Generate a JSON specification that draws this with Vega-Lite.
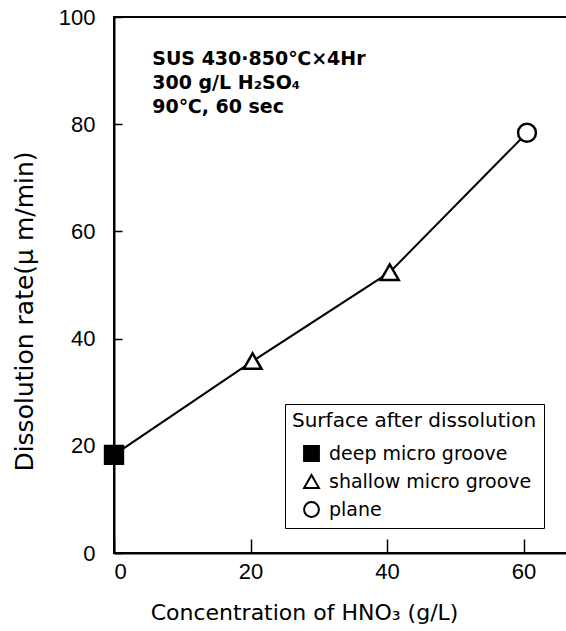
{
  "$schema": "https://vega.github.io/schema/vega-lite/v6.json",
  "autosize": "none",
  "padding": {"left": 114, "top": 17, "right": 0, "bottom": 78},
  "width": 456,
  "height": 536,
  "background": "white",
  "config": {
    "view": {"stroke": "black", "strokeWidth": 2},
    "axis": {
      "grid": false,
      "domainColor": "black",
      "domainWidth": 2,
      "tickColor": "black",
      "tickWidth": 1.5,
      "labelColor": "black",
      "labelFont": "Liberation Sans",
      "labelFontSize": 22,
      "titleColor": "black",
      "titleFont": "DejaVu Sans",
      "titleFontWeight": "normal",
      "titleFontSize": 20
    },
    "legend": {
      "orient": "none",
      "legendX": 171,
      "legendY": 387,
      "strokeColor": "black",
      "fillColor": "white",
      "padding": 7,
      "titleFont": "DejaVu Sans",
      "titleFontWeight": "normal",
      "titleFontSize": 20,
      "titleColor": "black",
      "titlePadding": 13,
      "labelFont": "DejaVu Sans",
      "labelFontSize": 19,
      "labelColor": "black",
      "labelOffset": 8,
      "symbolSize": 220,
      "symbolStrokeWidth": 2,
      "symbolOpacity": 1,
      "symbolOffset": 10,
      "rowPadding": 6,
      "titleLimit": 400,
      "labelLimit": 400
    }
  },
  "datasets": {
    "points": [
      {"hno3": 0, "rate": 18.3, "surface": "deep micro groove"},
      {"hno3": 20.3, "rate": 35.8, "surface": "shallow micro groove"},
      {"hno3": 40.4, "rate": 52.4, "surface": "shallow micro groove"},
      {"hno3": 60.5, "rate": 78.4, "surface": "plane"}
    ],
    "notes": [
      {"hno3": 5.6, "rate": 91.0, "text": "SUS 430·850℃×4Hr"},
      {"hno3": 5.6, "rate": 86.6, "text": "300 g/L  H₂SO₄"},
      {"hno3": 5.6, "rate": 82.1, "text": "90℃, 60 sec"}
    ]
  },
  "layer": [
    {
      "data": {"name": "points"},
      "mark": {"type": "line", "color": "black", "strokeWidth": 2},
      "encoding": {
        "x": {
          "field": "hno3", "type": "quantitative",
          "scale": {"domain": [0, 66.8], "nice": false},
          "axis": {
            "values": [0, 20, 40, 60],
            "tickSize": -14,
            "labelPadding": 22,
            "title": "Concentration of HNO₃ (g/L)",
            "titleX": 190,
            "titleY": 66,
            "titleBaseline": "alphabetic",
            "titleFontSize": 22
          }
        },
        "y": {
          "field": "rate", "type": "quantitative",
          "scale": {"domain": [0, 100], "nice": false},
          "axis": {
            "values": [0, 20, 40, 60, 80, 100],
            "tickSize": -8,
            "labelPadding": 27,
            "title": "Dissolution  rate(μ m/min)",
            "titleFontSize": 25,
            "titleAngle": 270,
            "titleX": -82,
            "titleY": 294,
            "titleAlign": "center",
            "titleBaseline": "alphabetic"
          }
        }
      }
    },
    {
      "data": {"name": "points"},
      "mark": {"type": "point", "filled": false, "strokeWidth": 2.5, "opacity": 1, "size": 320},
      "encoding": {
        "x": {"field": "hno3", "type": "quantitative"},
        "y": {"field": "rate", "type": "quantitative"},
        "shape": {
          "field": "surface", "type": "nominal",
          "scale": {"domain": ["deep micro groove", "shallow micro groove", "plane"], "range": ["square", "triangle-up", "circle"]},
          "legend": {"title": "Surface after dissolution"}
        },
        "stroke": {
          "field": "surface", "type": "nominal",
          "scale": {"domain": ["deep micro groove", "shallow micro groove", "plane"], "range": ["black", "black", "black"]},
          "legend": {"title": "Surface after dissolution"}
        },
        "fill": {
          "field": "surface", "type": "nominal",
          "scale": {"domain": ["deep micro groove", "shallow micro groove", "plane"], "range": ["black", "white", "white"]},
          "legend": {"title": "Surface after dissolution"}
        }
      }
    },
    {
      "data": {"name": "notes"},
      "mark": {"type": "text", "align": "left", "baseline": "alphabetic", "font": "DejaVu Sans", "fontWeight": "bold", "fontSize": 19, "color": "black"},
      "encoding": {
        "x": {"field": "hno3", "type": "quantitative"},
        "y": {"field": "rate", "type": "quantitative"},
        "text": {"field": "text"}
      }
    }
  ]
}
